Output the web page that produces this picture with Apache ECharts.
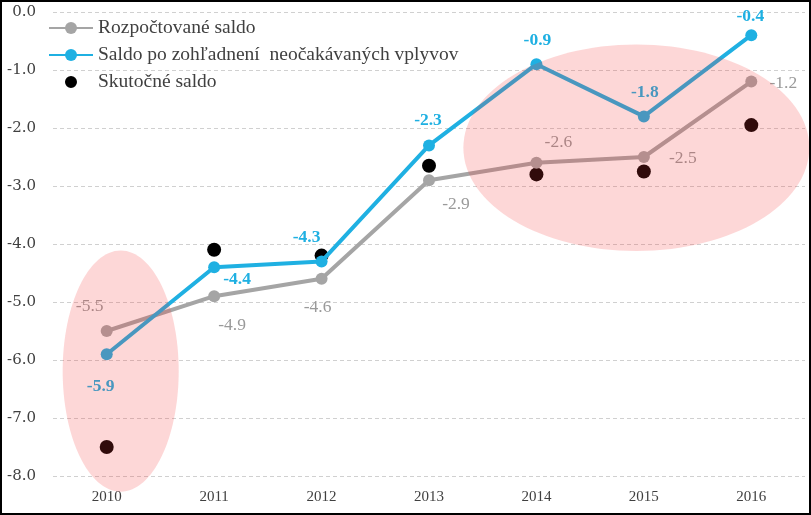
<!DOCTYPE html>
<html><head><meta charset="utf-8">
<script src="https://cdn.jsdelivr.net/npm/echarts@6/dist/echarts.min.js"></script>
<style>html,body{margin:0;padding:0;background:#fff}#main{width:811px;height:515px}</style>
</head><body><div id="main"></div>
<script>
const categories = ['2010','2011','2012','2013','2014','2015','2016'];
const rozpoctovane = [-5.5, -4.9, -4.6, -2.9, -2.6, -2.5, -1.2];
const poZohladneni = [-5.9, -4.4, -4.3, -2.3, -0.9, -1.8, -0.4];
const skutocne = [-7.5, -4.1, -4.2, -2.65, -2.8, -2.75, -1.95];
const yTicks = [0, -1, -2, -3, -4, -5, -6, -7, -8];

const grayOffsets = [[-17,-25],[18,29],[-4,29],[27,24],[22,-20],[39,1],[32,2]];
const blueOffsets = [[-6,32],[23,12],[-15,-24],[-1,-25],[1,-24],[1,-24],[-1,-19]];

const FONT = 'Liberation Serif';
const GRAY = '#a5a5a5', BLUE = '#1fb0e2';

function mk(vals, offs) {
  return vals.map((v, i) => ({ value: v, label: { offset: offs[i] } }));
}

const chart = echarts.init(document.getElementById('main'));
chart.setOption({
  animation: false,
  textStyle: { fontFamily: FONT },
  grid: { left: 53, right: 6, top: 12, bottom: 39 },
  legend: {
    left: 43, top: 13, orient: 'vertical', itemWidth: 44, itemHeight: 15, itemGap: 7,
    textStyle: { fontFamily: FONT, fontSize: 19.5, color: '#404040' },
    data: ['Rozpočtované saldo', 'Saldo po zohľadnení  neočakávaných vplyvov',
      { name: 'Skutočné saldo', icon: 'circle', itemStyle: { color: '#000', borderColor: '#fff', borderWidth: 3 } }]
  },
  xAxis: {
    type: 'category', data: categories, boundaryGap: true,
    axisLine: { show: false }, axisTick: { show: false },
    axisLabel: { fontFamily: FONT, fontSize: 15, color: '#404040', margin: 14 }
  },
  yAxis: {
    type: 'value', min: -8, max: 0, interval: 1,
    axisLabel: { fontFamily: 'DejaVu Serif', fontSize: 15, color: '#404040', margin: 17,
      formatter: v => (yTicks.includes(v) ? v.toFixed(1) : '') },
    splitLine: { lineStyle: { color: '#d0d0d0', type: [4, 3], width: 1 } },
    axisLine: { show: false }, axisTick: { show: false }
  },
  series: [
    {
      name: 'Rozpočtované saldo', type: 'line', data: mk(rozpoctovane, grayOffsets),
      symbol: 'circle', symbolSize: 12, color: GRAY,
      lineStyle: { width: 4, color: GRAY }, itemStyle: { color: GRAY },
      label: { show: true, position: 'inside', fontFamily: FONT, fontSize: 17.5, color: '#9a9a9a',
        formatter: p => p.value.toFixed(1) }
    },
    {
      name: 'Saldo po zohľadnení  neočakávaných vplyvov', type: 'line', data: mk(poZohladneni, blueOffsets),
      symbol: 'circle', symbolSize: 12, color: BLUE,
      lineStyle: { width: 4, color: BLUE }, itemStyle: { color: BLUE },
      label: { show: true, position: 'inside', fontFamily: FONT, fontSize: 17.5, fontWeight: 'bold', color: BLUE,
        formatter: p => p.value.toFixed(1) }
    },
    {
      name: 'Skutočné saldo', type: 'scatter', data: skutocne,
      symbol: 'circle', symbolSize: 14, color: '#000', itemStyle: { color: '#000', opacity: 1 }
    }
  ]
});

function px(idx, val) {
  const p0 = chart.convertToPixel({ gridIndex: 0 }, [0, val]);
  const p1 = chart.convertToPixel({ gridIndex: 0 }, [1, val]);
  return [p0[0] + (p1[0] - p0[0]) * idx, p0[1]];
}
function ell(cxIdx, cyVal, rxIdx, ryVal) {
  const c = px(cxIdx, cyVal);
  const a = px(cxIdx + rxIdx, cyVal);
  const b = px(cxIdx, cyVal + ryVal);
  return {
    type: 'ellipse', z: 100, silent: true,
    shape: { cx: c[0], cy: c[1], rx: Math.abs(a[0] - c[0]), ry: Math.abs(c[1] - b[1]) },
    style: { fill: 'rgba(245,55,55,0.2)' }
  };
}
chart.setOption({
  graphic: [
    ell(0.13, -6.19, 0.54, 2.08),
    ell(4.93, -2.34, 1.61, 1.78),
    { type: 'rect', z: 200, silent: true, shape: { x: 1, y: 1, width: 809, height: 513 },
      style: { fill: 'none', stroke: '#000', lineWidth: 2 } }
  ]
});
</script></body></html>
